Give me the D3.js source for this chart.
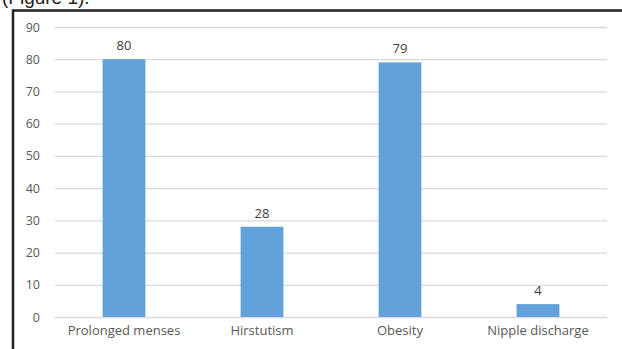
<!DOCTYPE html>
<html>
<head>
<meta charset="utf-8">
<script src="https://cdn.jsdelivr.net/npm/d3@7"></script>
<style>
  body { margin: 0; background: #fff; }
  svg { display: block; }
</style>
</head>
<body>
<svg id="chart" width="622" height="349"></svg>
<script>
const categories = ["Prolonged menses", "Hirstutism", "Obesity", "Nipple discharge"];
const values = [80, 28, 79, 4];
const yTicks = [0, 10, 20, 30, 40, 50, 60, 70, 80, 90];

const width = 622, height = 349;
const margin = { left: 55, right: 15, top: 27, bottom: 32 };

const svg = d3.select("#chart");

// caption fragment cut off at the top
svg.append("text")
    .attr("x", 2)
    .attr("y", 4)
    .attr("font-family", "Liberation Sans, Arial, sans-serif")
    .attr("font-size", 19)
    .attr("fill", "#222")
    .text("(Figure 1).");

// frame: only top and left edges are visible
svg.append("path")
    .attr("d", `M13,${height} V10.5 H${width}`)
    .attr("fill", "none")
    .attr("stroke", "#222")
    .attr("stroke-width", 2.5);

const x = d3.scaleBand()
    .domain(categories)
    .range([margin.left, width - margin.right])
    .paddingInner(0.69)
    .paddingOuter(0.345);

const y = d3.scaleLinear()
    .domain([0, 90])
    .range([height - margin.bottom, margin.top]);

const font = "'Open Sans', sans-serif";

// gridlines + y labels
const yAxis = svg.append("g")
    .attr("transform", `translate(${margin.left},0)`)
    .call(d3.axisLeft(y).tickValues(yTicks).tickSize(-(width - margin.right - margin.left)).tickPadding(15));
yAxis.select(".domain").remove();
yAxis.selectAll(".tick line").attr("stroke", "#d9d9d9").attr("stroke-width", 1.3);
yAxis.selectAll(".tick text")
    .attr("fill", "#595959")
    .attr("font-family", font)
    .attr("font-size", 12.5);

// bars
svg.selectAll("rect.bar")
    .data(values)
    .enter()
    .append("rect")
    .attr("class", "bar")
    .attr("x", (d, i) => x(categories[i]))
    .attr("y", d => y(d))
    .attr("width", x.bandwidth())
    .attr("height", d => y(0) - y(d))
    .attr("fill", "#62a1da");

// value labels
svg.selectAll("text.val")
    .data(values)
    .enter()
    .append("text")
    .attr("class", "val")
    .attr("x", (d, i) => x(categories[i]) + x.bandwidth() / 2)
    .attr("y", d => y(d) - 9)
    .attr("text-anchor", "middle")
    .attr("fill", "#404040")
    .attr("font-family", font)
    .attr("font-size", 13)
    .text(d => d);

// category labels
const xAxis = svg.append("g")
    .attr("transform", `translate(0,${y(0)})`)
    .call(d3.axisBottom(x).tickSize(0).tickPadding(9));
xAxis.select(".domain").remove();
xAxis.selectAll(".tick text")
    .attr("fill", "#595959")
    .attr("font-family", font)
    .attr("font-size", 13);
</script>
</body>
</html>
